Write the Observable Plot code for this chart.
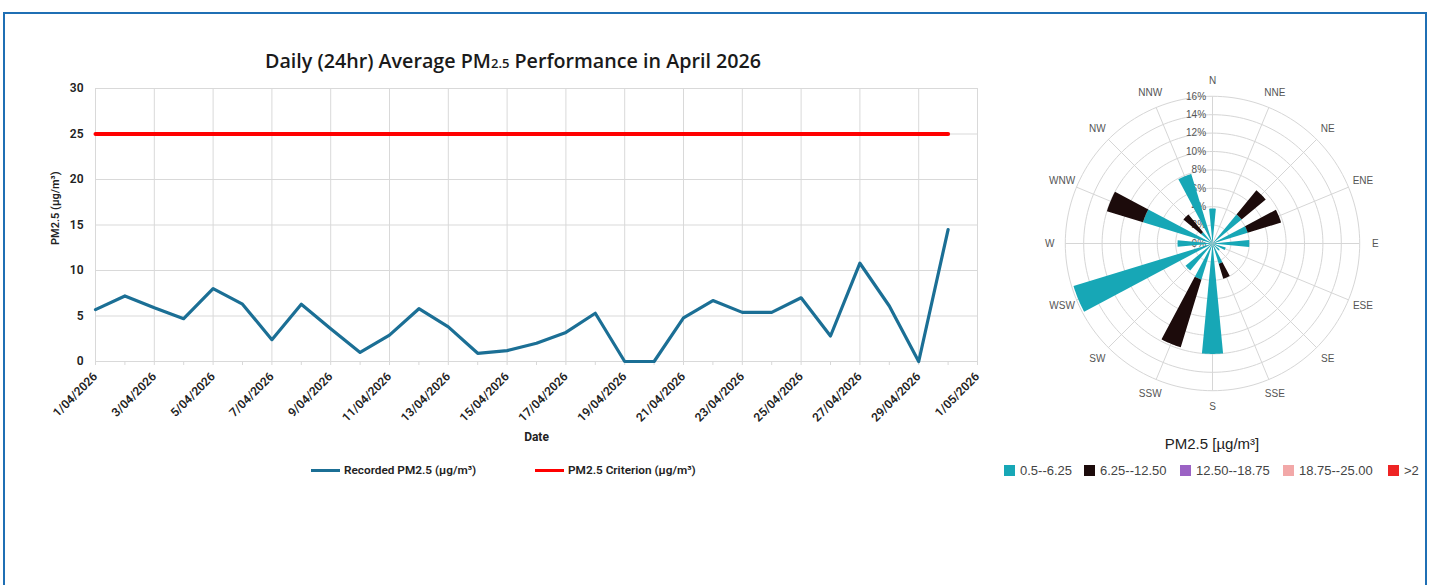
<!DOCTYPE html>
<html>
<head>
<meta charset="utf-8">
<script src="https://cdn.jsdelivr.net/npm/d3@7"></script>
<script src="https://cdn.jsdelivr.net/npm/@observablehq/plot@0.6"></script>
<style>
  html, body { margin: 0; padding: 0; background: #fff; }
  body { width: 1432px; height: 585px; overflow: hidden; position: relative; font-family: "Liberation Sans", Arial, sans-serif; }
  #frame { position: absolute; left: 3px; top: 12px; width: 1424px; height: 640px; border: 2px solid #1f6fb4; box-sizing: border-box; }
  #title { position: absolute; left: 0; width: 1026px; top: 47px; text-align: center; font: 600 19.7px "Open Sans", sans-serif; color: #1a1a1a; white-space: nowrap; }
  #title sub { font-size: 13px; vertical-align: baseline; }
  #line { position: absolute; left: 0; top: 0; }
  #rose { position: absolute; left: 1022px; top: 53px; }
  .lg { position: absolute; top: 463px; font: 600 11.8px Roboto, sans-serif; color: #222; white-space: nowrap; display: flex; align-items: center; }
  .lg i { display: inline-block; width: 29px; height: 3px; margin-right: 4px; }
  #roseTitle { position: absolute; left: 1022px; width: 380px; top: 435px; text-align: center; font: 15px "Liberation Sans", Arial, sans-serif; color: #222; }
  #roseLegend { position: absolute; left: 0; top: 463px; font: 13px "Liberation Sans", Arial, sans-serif; color: #444; }
  #roseLegend span { position: absolute; white-space: nowrap; display: flex; align-items: center; }
  #roseLegend i { display: inline-block; width: 11px; height: 11px; margin-right: 5px; }
</style>
</head>
<body>
<div id="frame"></div>
<div id="title">Daily (24hr) Average PM<sub>2.5</sub> Performance in April 2026</div>
<div id="line"></div>
<div class="lg" style="left:311px"><i style="background:#1b6f95"></i>Recorded PM2.5 (µg/m³)</div>
<div class="lg" style="left:535px"><i style="background:#ff0000"></i>PM2.5 Criterion (µg/m³)</div>
<div id="rose"></div>
<div id="roseTitle">PM2.5 [µg/m³]</div>
<div id="roseLegend"></div>
<script>
// ---------- Line chart data ----------
const dates = ["2026-04-01","2026-04-02","2026-04-03","2026-04-04","2026-04-05","2026-04-06","2026-04-07","2026-04-08","2026-04-09","2026-04-10",
               "2026-04-11","2026-04-12","2026-04-13","2026-04-14","2026-04-15","2026-04-16","2026-04-17","2026-04-18","2026-04-19","2026-04-20",
               "2026-04-21","2026-04-22","2026-04-23","2026-04-24","2026-04-25","2026-04-26","2026-04-27","2026-04-28","2026-04-29","2026-04-30"];
const pm25 = [5.7, 7.2, 5.9, 4.7, 8.0, 6.3, 2.4, 6.3, 3.6, 1.0,
              2.9, 5.8, 3.8, 0.9, 1.2, 2.0, 3.2, 5.3, 0.0, 0.0,
              4.8, 6.7, 5.4, 5.4, 7.0, 2.8, 10.8, 6.1, 0.0, 14.5];
const criterion = 25;
const xLabelDates = ["2026-04-01","2026-04-03","2026-04-05","2026-04-07","2026-04-09","2026-04-11","2026-04-13","2026-04-15",
                     "2026-04-17","2026-04-19","2026-04-21","2026-04-23","2026-04-25","2026-04-27","2026-04-29","2026-05-01"];
const yTicks = [0, 5, 10, 15, 20, 25, 30];

// ---------- Wind rose data ----------
const directions = ["N","NNE","NE","ENE","E","ESE","SE","SSE","S","SSW","SW","WSW","W","WNW","NW","NNW"];
const bin1 = [3.8, 0.0, 4.1, 4.0, 4.0, 1.5, 1.0, 2.3, 12.0, 4.1, 3.8, 15.8, 3.8, 7.9, 1.6, 7.9];   // 0.5--6.25
const bin2 = [0.0, 0.0, 3.4, 3.8, 0.0, 0.0, 0.0, 1.7, 0.0, 7.7, 0.0, 0.0, 0.0, 4.1, 2.5, 0.0];    // 6.25--12.50
const binLabels = ["0.5--6.25", "6.25--12.50", "12.50--18.75", "18.75--25.00", ">2"];
const binColors = ["#17a7b6", "#1c0b0b", "#9b62c4", "#f2a8a8", "#ee2424"];
const ringValues = [0, 2, 4, 6, 8, 10, 12, 14, 16];

// ---------- Line chart ----------
const parse = d3.utcParse("%Y-%m-%d");
const series = dates.map((d, i) => ({date: parse(d), value: pm25[i]}));
const critSeries = dates.map(d => ({date: parse(d), value: criterion}));
const labelTicks = xLabelDates.map(parse);
const allDays = d3.utcDay.range(parse("2026-04-01"), d3.utcDay.offset(parse("2026-05-01"), 1));
const fmt = d => `${d.getUTCDate()}/${String(d.getUTCMonth() + 1).padStart(2, "0")}/${d.getUTCFullYear()}`;

const line = Plot.plot({
  width: 990, height: 460,
  marginLeft: 95, marginRight: 13, marginTop: 88, marginBottom: 99,
  style: {fontFamily: "Roboto, sans-serif", fontSize: "12px", fontWeight: 600, color: "#222", background: "transparent"},
  x: {type: "utc", domain: [parse("2026-04-01"), parse("2026-05-01")]},
  y: {domain: [0, 30]},
  marks: [
    Plot.gridX(labelTicks, {stroke: "#d9d9d9", strokeOpacity: 1}),
    Plot.gridY(yTicks, {stroke: "#d9d9d9", strokeOpacity: 1}),
    Plot.axisX({ticks: allDays, tickSize: 4, tickFormat: () => "", stroke: "#d9d9d9", strokeOpacity: 1, label: null}),
    Plot.axisX({ticks: labelTicks, tickSize: 0, tickPadding: 13, tickRotate: -45, tickFormat: fmt, label: null, fill: "#222"}),
    Plot.axisY({ticks: yTicks, tickSize: 0, tickPadding: 12, label: null, fill: "#222"}),
    Plot.ruleY([0], {stroke: "#d9d9d9"}),
    Plot.line(critSeries, {x: "date", y: "value", stroke: "#ff0000", strokeWidth: 4}),
    Plot.line(series, {x: "date", y: "value", stroke: "#1b6f95", strokeWidth: 3.2}),
    Plot.text(["Date"], {text: d => d, frameAnchor: "bottom", dy: 79, fontSize: 12, fontWeight: 700, fill: "#222"}),
    Plot.text(["PM2.5 (µg/m³)"], {text: d => d, frameAnchor: "left", dx: -40, dy: 20, rotate: -90, fontSize: 11, fontWeight: 600, fill: "#222"})
  ]
});
document.getElementById("line").appendChild(line);

// ---------- Wind rose ----------
const D = 190 / 9.2;
const rad = a => a * Math.PI / 180;
const width = 11;
function wedge(id, angle, r0, r1) {
  const pts = [], n = 12;
  for (let i = 0; i <= n; i++) { const a = rad(angle - width / 2 + width * i / n); pts.push({id, x: r1 * Math.sin(a), y: r1 * Math.cos(a)}); }
  for (let i = n; i >= 0; i--) { const a = rad(angle - width / 2 + width * i / n); pts.push({id, x: r0 * Math.sin(a), y: r0 * Math.cos(a)}); }
  return pts;
}
const w1 = directions.flatMap((d, i) => bin1[i] > 0 ? wedge(d, i * 22.5, 0, bin1[i]) : []);
const w2 = directions.flatMap((d, i) => bin2[i] > 0 ? wedge(d, i * 22.5, bin1[i], bin1[i] + bin2[i]) : []);
const rings = ringValues.filter(r => r > 0).flatMap(r => d3.range(0, 360, 2).map(a => ({r, x: r * Math.sin(rad(a)), y: r * Math.cos(rad(a))})));
const spokes = directions.map((d, i) => ({d, a: i * 22.5}));

const rose = Plot.plot({
  width: 380, height: 380, margin: 0,
  style: {fontFamily: "'Liberation Sans', Arial, sans-serif", background: "transparent"},
  x: {domain: [-D, D], axis: null},
  y: {domain: [-D, D], axis: null},
  marks: [
    Plot.line(rings, {x: "x", y: "y", z: "r", stroke: "#d6d6d6", strokeWidth: 1, curve: "linear-closed"}),
    Plot.link(spokes, {x1: () => 0, y1: () => 0, x2: s => 16 * Math.sin(rad(s.a)), y2: s => 16 * Math.cos(rad(s.a)), stroke: "#d6d6d6", strokeWidth: 1}),
    Plot.text(spokes, {x: s => 17.7 * Math.sin(rad(s.a)), y: s => 17.7 * Math.cos(rad(s.a)), text: "d", fontSize: 10, fill: "#555"}),
    Plot.text(ringValues, {x: () => -0.7, y: r => r, text: r => r + "%", textAnchor: "end", fontSize: 10, fill: "#555"}),
    Plot.line(w1, {x: "x", y: "y", z: "id", fill: binColors[0], stroke: "none", curve: "linear-closed"}),
    Plot.line(w2, {x: "x", y: "y", z: "id", fill: binColors[1], stroke: "none", curve: "linear-closed"})
  ]
});
document.getElementById("rose").appendChild(rose);

// ---------- Rose legend ----------
const legendX = [1004, 1084, 1180, 1283, 1388];
const lg = document.getElementById("roseLegend");
binLabels.forEach((l, i) => {
  const s = document.createElement("span");
  s.style.left = legendX[i] + "px";
  s.innerHTML = `<i style="background:${binColors[i]}"></i>${l}`;
  lg.appendChild(s);
});
</script>
</body>
</html>
